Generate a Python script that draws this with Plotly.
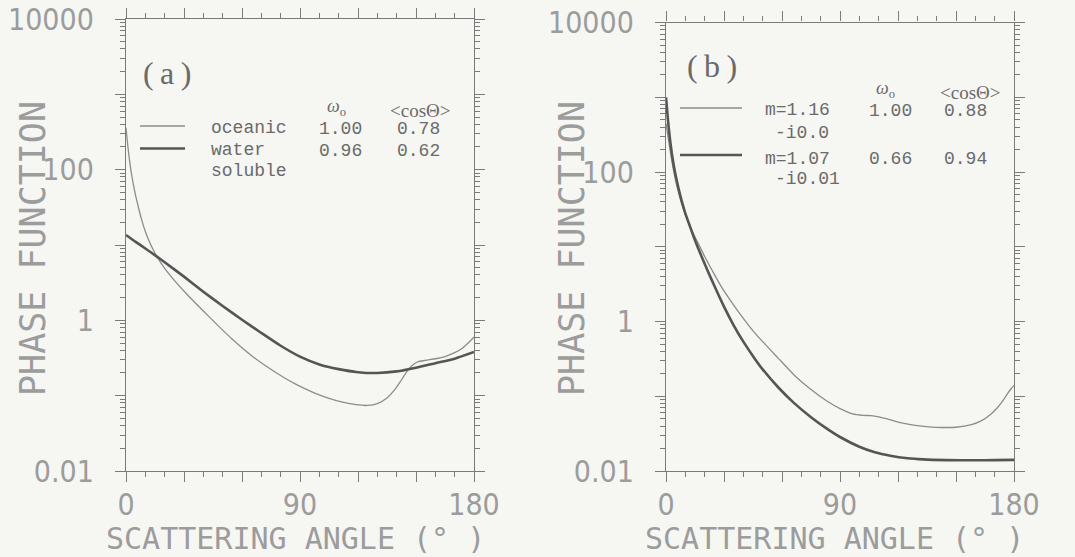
import plotly.graph_objects as go

W, H = 1075, 557

# ---------------- data ----------------
# Panel (a)
oceanic_angle = [0, 1, 2, 3, 4, 5, 6.5, 8, 10, 12, 14, 16, 20, 25, 31, 40, 48, 55, 65, 72,
                 81, 88, 97, 105, 112, 119, 125, 130, 135, 139, 142, 145, 148, 151, 155,
                 160, 165, 170, 174, 177, 180]
oceanic_pf = [360, 200, 123, 83, 60, 45, 31, 22.1, 15.1, 11.2, 8.7, 7.0, 4.9, 3.39, 2.29,
              1.33, 0.832, 0.562, 0.339, 0.251, 0.178, 0.141, 0.11, 0.0923, 0.0822, 0.0759,
              0.0741, 0.0785, 0.0933, 0.12, 0.155, 0.204, 0.251, 0.282, 0.295, 0.309, 0.331,
              0.372, 0.427, 0.5, 0.6]

water_angle = [0, 5, 10, 16, 20, 30, 40, 50, 60, 70, 80, 90, 100, 110, 120, 130, 140, 150,
               160, 170, 180]
water_pf = [13.6, 11.0, 9.0, 7.0, 5.9, 3.8, 2.4, 1.55, 1.02, 0.68, 0.46, 0.33, 0.26, 0.225,
            0.205, 0.2, 0.21, 0.235, 0.27, 0.31, 0.38]

# Panel (b)
m116_angle = [0, 1, 2, 3, 4, 5, 6.5, 8, 10, 12, 14, 16, 20, 25, 29, 35, 40, 45, 50, 58, 66.5,
              75, 83, 90, 96.5, 102, 106, 110, 114, 120, 128, 136, 143, 150, 158, 163, 168,
              171.5, 174, 176.5, 178.5, 180]
m116_pf = [447, 302, 204, 141, 102, 76, 52.5, 38.5, 26.9, 20, 15.3, 12.0, 7.41, 4.27, 2.82,
           1.66, 1.10, 0.75, 0.537, 0.324, 0.19, 0.123, 0.087, 0.0684, 0.0582, 0.0556,
           0.055, 0.0531, 0.0501, 0.0452, 0.0412, 0.0389, 0.0382, 0.0385, 0.0417, 0.0468,
           0.0575, 0.0708, 0.0851, 0.107, 0.126, 0.14]

m107_angle = [0, 0.5, 1, 2, 3, 4, 5, 6.5, 8, 10, 12, 14, 16, 19, 22, 25, 30, 35, 40, 46, 50,
              58, 66, 75, 83, 90, 100, 108, 116, 125, 133, 145, 160, 170, 180]
m107_pf = [1000, 708, 501, 282, 178, 123, 90, 60, 42, 28, 20, 14.3, 10.5, 6.8, 4.5, 3.0,
           1.58, 0.89, 0.537, 0.316, 0.229, 0.132, 0.0822, 0.0525, 0.0372, 0.0285, 0.0211,
           0.0178, 0.016, 0.0148, 0.0143, 0.014, 0.0139, 0.014, 0.0141]

x_tick_vals = [0, 30, 60, 90, 120, 150, 180]
x_tick_text = ["0", "", "", "90", "", "", "180"]
x_minor_vals = [10, 20, 40, 50, 70, 80, 100, 110, 130, 140, 160, 170]
y_tick_vals = [0.01, 0.1, 1, 10, 100, 1000, 10000]
y_tick_text = ["0.01", "", "1", "", "100", "", "10000"]
y_minor_vals = [m * 10.0 ** d for d in range(-2, 4) for m in range(2, 10)]

legend_a_names = ["oceanic", "water", "soluble"]
legend_a_w0 = ["1.00", "0.96"]
legend_a_g = ["0.78", "0.62"]
legend_b_names = ["m=1.16", "-i0.0", "m=1.07", "-i0.01"]
legend_b_w0 = ["1.00", "0.66"]
legend_b_g = ["0.88", "0.94"]

# ---------------- styles ----------------
BG = "#f6f6f3"
AX = "#7a7a7a"
THIN = "#8c8c8c"
THICK = "#555555"
TXT = "#6a6a6a"
LBL = "#9c9c9c"
TICKFONT = "Liberation Sans Narrow, DejaVu Sans Condensed, DejaVu Sans Mono"
AXFONT = "DejaVu Sans Mono"
LEGFONT = "Liberation Mono"


def px(x):
    return x / W


def py(y):
    return 1 - y / H


fig = go.Figure()
fig.add_trace(go.Scatter(x=oceanic_angle, y=oceanic_pf, mode="lines", xaxis="x", yaxis="y",
                         line=dict(color=THIN, width=1.3, shape="spline", smoothing=0.6)))
fig.add_trace(go.Scatter(x=water_angle, y=water_pf, mode="lines", xaxis="x", yaxis="y",
                         line=dict(color=THICK, width=2.6, shape="spline", smoothing=0.6)))
fig.add_trace(go.Scatter(x=m116_angle, y=m116_pf, mode="lines", xaxis="x2", yaxis="y2",
                         line=dict(color=THIN, width=1.3, shape="spline", smoothing=0.6)))
fig.add_trace(go.Scatter(x=m107_angle, y=m107_pf, mode="lines", xaxis="x2", yaxis="y2",
                         line=dict(color=THICK, width=2.6, shape="spline", smoothing=0.6)))


def xaxis(dom, anchor):
    return dict(domain=dom, anchor=anchor, range=[0, 180], tickmode="array",
                tickvals=x_tick_vals, ticktext=x_tick_text, ticks="outside", ticklen=10,
                tickwidth=1.2, tickcolor=AX, showline=True, linecolor=AX, linewidth=1.3,
                mirror="ticks", showgrid=False, zeroline=False, automargin=False,
                ticklabeloverflow="allow",
                tickfont=dict(family=TICKFONT, size=30, color=LBL),
                ticklabelstandoff=-3,
                minor=dict(tickvals=x_minor_vals, ticks="outside", ticklen=5, tickwidth=1.1,
                           tickcolor=AX, showgrid=False))


def yaxis(dom, anchor):
    return dict(domain=dom, anchor=anchor, type="log", range=[-2, 4], tickmode="array",
                tickvals=y_tick_vals, ticktext=y_tick_text, ticks="outside", ticklen=10,
                tickwidth=1.2, tickcolor=AX, showline=True, linecolor=AX, linewidth=1.3,
                mirror="ticks", showgrid=False, zeroline=False, automargin=False,
                ticklabeloverflow="allow",
                tickfont=dict(family=TICKFONT, size=30, color=LBL),
                ticklabelstandoff=15,
                minor=dict(tickvals=y_minor_vals, ticks="outside", ticklen=5, tickwidth=1.0,
                           tickcolor=AX, showgrid=False))


fig.update_layout(
    width=W, height=H, paper_bgcolor=BG, plot_bgcolor=BG, showlegend=False,
    margin=dict(l=0, r=0, t=0, b=0, pad=0, autoexpand=False),
    xaxis=xaxis([px(126), px(474)], "y"),
    yaxis=yaxis([py(471), py(19)], "x"),
    xaxis2=xaxis([px(666), px(1014)], "y2"),
    yaxis2=yaxis([py(471), py(22.5)], "x2"),
)

ann = []


def text(x, y, s, size=18, family=LEGFONT, color=TXT, xanchor="center", textangle=0):
    ann.append(dict(x=px(x), y=py(y), xref="paper", yref="paper", text=s, showarrow=False,
                    xanchor=xanchor, yanchor="middle", textangle=textangle,
                    font=dict(family=family, size=size, color=color)))


# axis titles
for cx in (295, 834):
    text(cx, 538, "SCATTERING ANGLE (° )", size=30, family=AXFONT, color=LBL)
for cx in (33, 572):
    text(cx, 249, "PHASE FUNCTION", size=35, family=AXFONT, color=LBL, textangle=-90)

# panel labels
text(167, 73, "(\u2009a\u2009)", size=32, family="Liberation Serif")
text(712, 66, "(\u2009b\u2009)", size=32, family="Liberation Serif")

# legend (a)
text(209, 128, legend_a_names[0], xanchor="left")
text(209, 150, legend_a_names[1], xanchor="left")
text(209, 171, legend_a_names[2], xanchor="left")
text(336, 108, "<i>ω</i><sub>o</sub>", family="Liberation Serif", size=18)
text(420, 110, "&lt;cosΘ&gt;", family="Liberation Serif", size=19)
text(340, 129, legend_a_w0[0])
text(340, 151, legend_a_w0[1])
text(418, 129, legend_a_g[0])
text(418, 151, legend_a_g[1])

# legend (b)
text(763, 110, legend_b_names[0], xanchor="left")
text(773, 133, legend_b_names[1], xanchor="left")
text(763, 159, legend_b_names[2], xanchor="left")
text(773, 179, legend_b_names[3], xanchor="left")
text(885, 90, "<i>ω</i><sub>o</sub>", family="Liberation Serif", size=18)
text(970, 92, "&lt;cosΘ&gt;", family="Liberation Serif", size=19)
text(890, 111, legend_b_w0[0])
text(890, 159, legend_b_w0[1])
text(965, 111, legend_b_g[0])
text(965, 159, legend_b_g[1])

shapes = []


def seg(x0, x1, y, color, width):
    shapes.append(dict(type="line", xref="paper", yref="paper", x0=px(x0), x1=px(x1),
                       y0=py(y), y1=py(y), line=dict(color=color, width=width)))


seg(140, 185, 126, THIN, 1.3)
seg(140, 185, 148.5, THICK, 2.6)
seg(680, 742, 108, THIN, 1.3)
seg(680, 742, 155, THICK, 2.6)

fig.update_layout(annotations=ann, shapes=shapes)
fig.write_html("out.html", config={"displayModeBar": False},
               post_script="document.body.style.margin='0';"
                           "document.body.style.background='" + BG + "';")
